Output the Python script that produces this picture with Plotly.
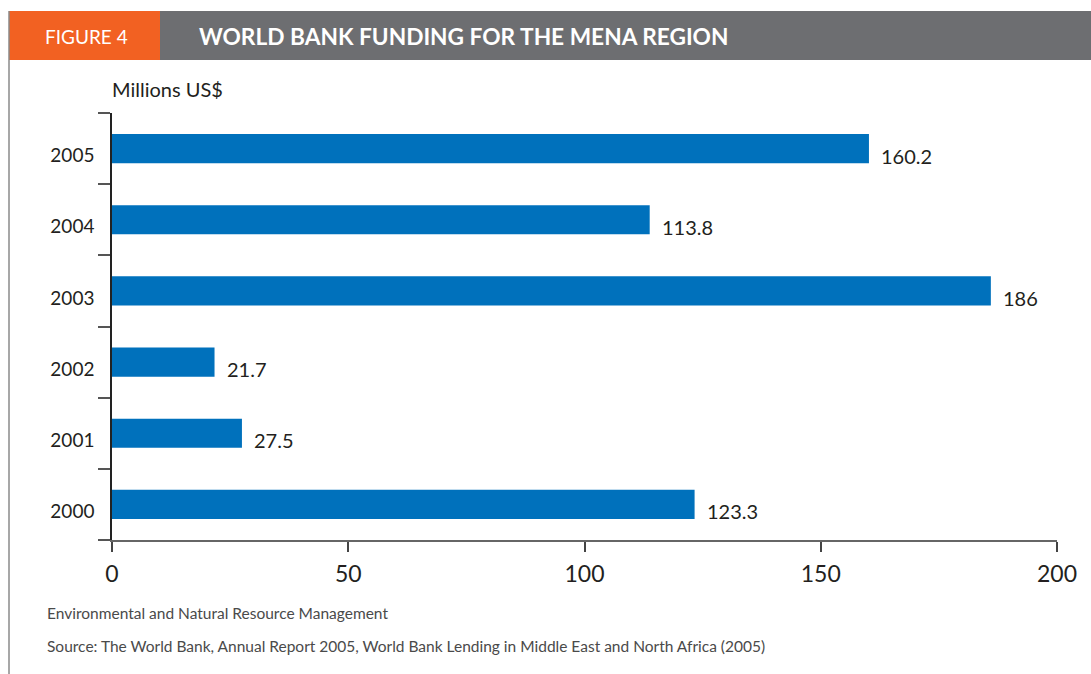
import plotly.graph_objects as go

# ---- data ----
years = ["2000", "2001", "2002", "2003", "2004", "2005"]
funding = [123.3, 27.5, 21.7, 186, 113.8, 160.2]
x_ticks = [0, 50, 100, 150, 200]

title_tag = "FIGURE 4"
title_text = "WORLD BANK FUNDING FOR THE MENA REGION"
unit_label = "Millions US$"
note1 = "Environmental and Natural Resource Management"
note2 = "Source: The World Bank, Annual Report 2005, World Bank Lending in Middle East and North Africa (2005)"

# ---- layout geometry (pixels) ----
W, H = 1091, 674
L, R, T, B = 112, 1057, 113, 540
PW, PH = R - L, B - T


def px(x):
    return (x - L) / PW


def py(y):
    return (B - y) / PH


BLUE = "#0071BC"
ORANGE = "#F26122"
GRAY = "#6D6E71"
TXT = "#231F20"
FONT = "Lato"

fig = go.Figure(
    go.Bar(
        x=funding,
        y=years,
        orientation="h",
        marker=dict(color=BLUE, line=dict(width=0)),
        hoverinfo="x+y",
    )
)

# value labels (category index used as y position)
for i, v in enumerate(funding):
    fig.add_annotation(
        x=v, y=i, xref="x", yref="y",
        text=f"{v:g}", showarrow=False,
        xanchor="left", yanchor="middle",
        xshift=10, yshift=-7,
        font=dict(family=FONT, size=20, color=TXT),
    )

shapes = [
    # header bars
    dict(type="rect", xref="paper", yref="paper",
         x0=px(9), x1=px(160), y0=py(60), y1=py(11),
         fillcolor=ORANGE, line=dict(width=0), layer="below"),
    dict(type="rect", xref="paper", yref="paper",
         x0=px(160), x1=px(1091), y0=py(60), y1=py(11),
         fillcolor=GRAY, line=dict(width=0), layer="below"),
    # left frame line
    dict(type="line", xref="paper", yref="paper",
         x0=px(9), x1=px(9), y0=py(11), y1=py(674),
         line=dict(color="#8a8a8a", width=1.5)),
]

annots = [
    dict(x=px(86), y=py(36), text=title_tag,
         font=dict(family=FONT, size=19, color="white"),
         xanchor="center", yanchor="middle"),
    dict(x=px(197), y=py(36), text=f"<b>{title_text}</b>",
         font=dict(family=FONT, size=22.7, color="white", weight=900),
         xanchor="left", yanchor="middle"),
    dict(x=px(110), y=py(89), text=unit_label,
         font=dict(family=FONT, size=20, color=TXT),
         xanchor="left", yanchor="middle"),
    dict(x=px(45), y=py(613), text=note1,
         font=dict(family=FONT, size=15.5, color="#4a4a4a"),
         xanchor="left", yanchor="middle"),
    dict(x=px(45), y=py(646), text=note2,
         font=dict(family=FONT, size=15.5, color="#4a4a4a"),
         xanchor="left", yanchor="middle"),
]
for a in annots:
    fig.add_annotation(xref="paper", yref="paper", showarrow=False, **a)

fig.update_layout(
    width=W, height=H,
    margin=dict(l=L, r=W - R, t=T, b=H - B, pad=0),
    paper_bgcolor="white", plot_bgcolor="white",
    showlegend=False,
    bargap=0.59,
    shapes=shapes,
    font=dict(family=FONT, color=TXT),
)

fig.update_xaxes(
    range=[0, 200], tickvals=x_ticks, ticktext=[str(t) for t in x_ticks],
    showgrid=False, zeroline=False,
    showline=True, linecolor="#666666", linewidth=1.5,
    ticks="outside", ticklen=10, tickcolor="#444444", tickwidth=1.5,
    tickfont=dict(family=FONT, size=23, color=TXT),
    ticklabelstandoff=3,
    fixedrange=True,
)
fig.update_yaxes(
    type="category", categoryorder="array", categoryarray=years,
    range=[-0.5, len(years) - 0.5],
    showgrid=False, zeroline=False,
    showline=True, linecolor="#222222", linewidth=1.5,
    ticks="outside", tickson="boundaries", ticklen=12,
    tickcolor="#555555", tickwidth=1.5,
    tickfont=dict(family=FONT, size=19, color=TXT),
    ticklabelshift=7, ticklabelstandoff=12,
    fixedrange=True,
)

fig.write_html("out.html", config={"displayModeBar": False},
               post_script="document.body.style.margin='0';")
